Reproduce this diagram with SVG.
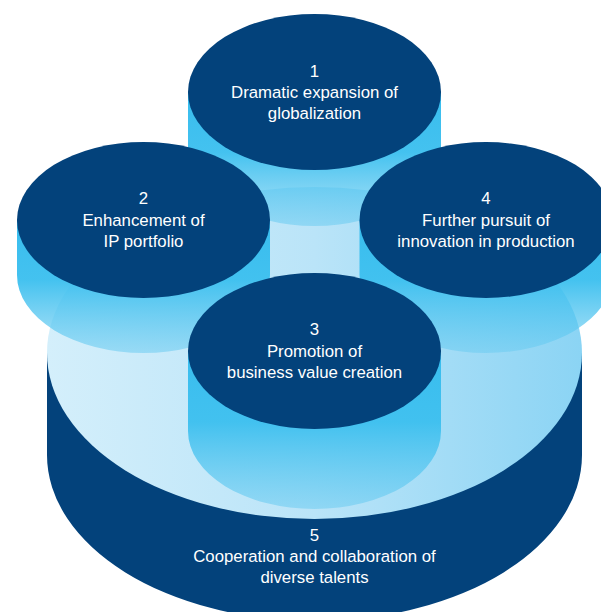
<svg xmlns="http://www.w3.org/2000/svg" width="601" height="612" viewBox="0 0 601 612">
  <defs>
    <linearGradient id="side" x1="0" y1="0" x2="0" y2="1">
      <stop offset="0" stop-color="#38bdee" stop-opacity="1"/>
      <stop offset="0.45" stop-color="#3ec0ef" stop-opacity="0.97"/>
      <stop offset="1" stop-color="#6dccf1" stop-opacity="0.55"/>
    </linearGradient>
    <linearGradient id="plate" x1="0" y1="0" x2="1" y2="0">
      <stop offset="0" stop-color="#d4effb"/>
      <stop offset="0.5" stop-color="#bae4f8"/>
      <stop offset="1" stop-color="#8bd4f4"/>
    </linearGradient>
    <style>
      .top { fill: #03427b; }
      .base { fill: #03427b; }
      .side { fill: url(#side); }
      .plate { fill: url(#plate); }
      .t { font-family: "Liberation Sans", Arial, sans-serif; font-size: 16.8px; fill: #ffffff; text-anchor: middle; }
    </style>
  </defs>

  <g id="node5">
    <path class="base" d="M47,353 L47,455 A267.5,166 0 0 0 582,455 L582,353 Z"/>
    <ellipse class="plate" cx="314.5" cy="353" rx="267.5" ry="166"/>
    <text class="t" x="314.5" y="540.5">5</text>
    <text class="t" x="314.5" y="561.5">Cooperation and collaboration of</text>
    <text class="t" x="314.5" y="582.5">diverse talents</text>
  </g>

  <g id="node1">
    <path class="side" d="M188,92 L188,148 A126.5,78 0 0 0 441,148 L441,92 Z"/>
    <ellipse class="top" cx="314.5" cy="92" rx="126.5" ry="78"/>
    <text class="t" x="314.5" y="77">1</text>
    <text class="t" x="314.5" y="98">Dramatic expansion of</text>
    <text class="t" x="314.5" y="119">globalization</text>
  </g>

  <g id="node2">
    <path class="side" d="M17,220 L17,275 A126.5,78 0 0 0 270,275 L270,220 Z"/>
    <ellipse class="top" cx="143.5" cy="220" rx="126.5" ry="78"/>
    <text class="t" x="143.5" y="204">2</text>
    <text class="t" x="143.5" y="225.5">Enhancement of</text>
    <text class="t" x="143.5" y="247">IP portfolio</text>
  </g>

  <g id="node4">
    <path class="side" d="M359.5,220 L359.5,275 A126.5,78 0 0 0 612.5,275 L612.5,220 Z"/>
    <ellipse class="top" cx="486" cy="220" rx="126.5" ry="78"/>
    <text class="t" x="486" y="204">4</text>
    <text class="t" x="486" y="225.5">Further pursuit of</text>
    <text class="t" x="486" y="247">innovation in production</text>
  </g>

  <g id="node3">
    <path class="side" d="M188,351 L188,431 A126.5,78 0 0 0 441,431 L441,351 Z"/>
    <ellipse class="top" cx="314.5" cy="351" rx="126.5" ry="78"/>
    <text class="t" x="314.5" y="335">3</text>
    <text class="t" x="314.5" y="357">Promotion of</text>
    <text class="t" x="314.5" y="378">business value creation</text>
  </g>

  <g id="connectors"/>
</svg>
